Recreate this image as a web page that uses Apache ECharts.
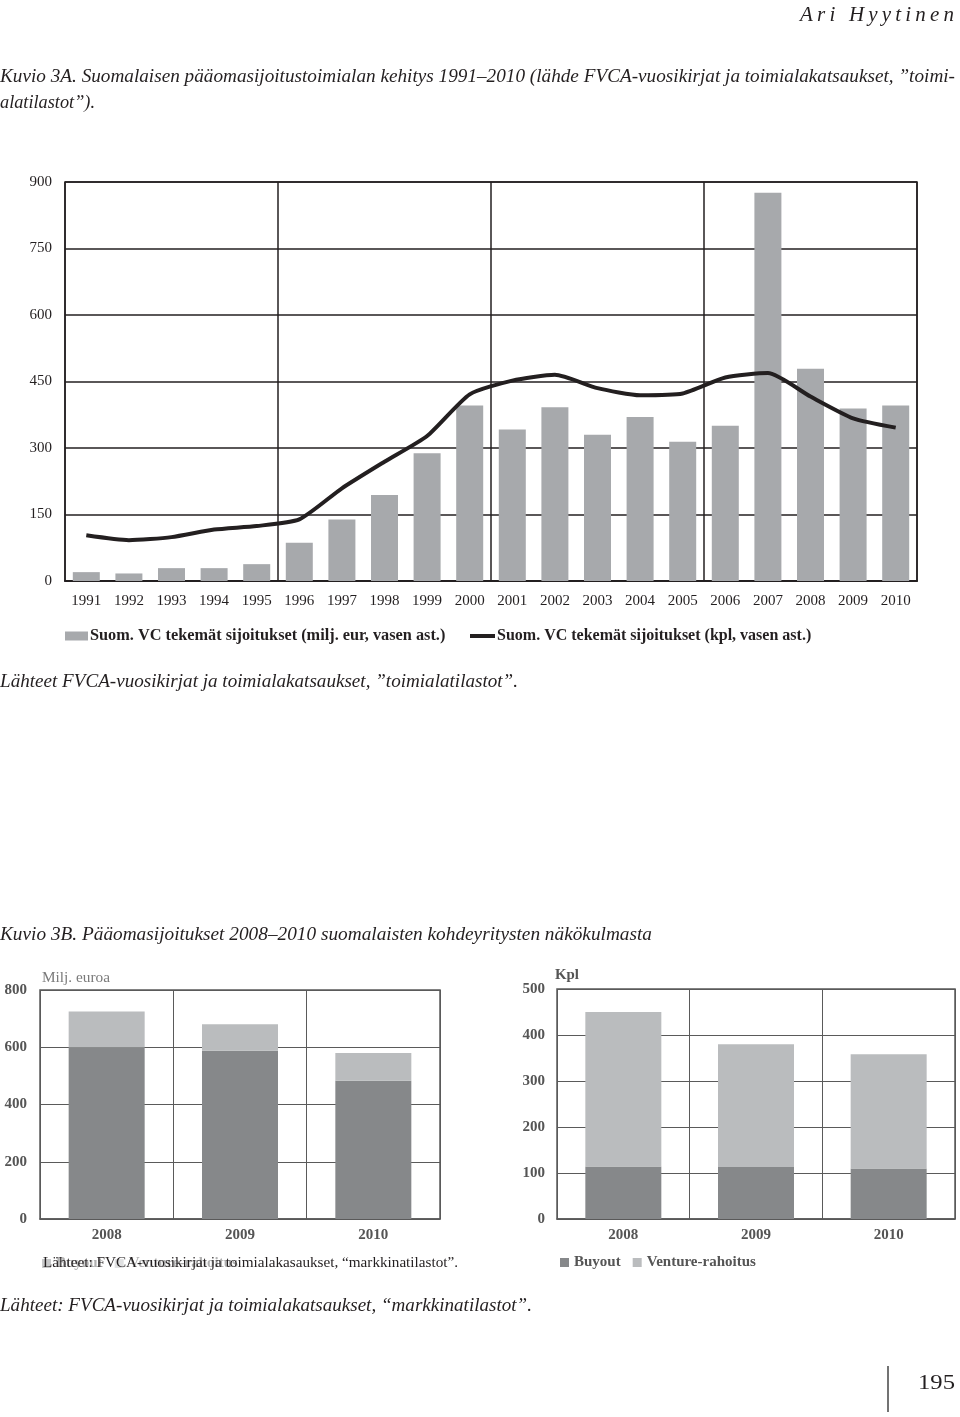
<!DOCTYPE html>
<html><head><meta charset="utf-8">
<script src="https://cdn.jsdelivr.net/npm/echarts@6/dist/echarts.min.js"></script>
<style>
html,body{margin:0;padding:0;background:#fff;}
#wrap{position:relative;width:960px;height:1417px;}
#c{width:960px;height:1417px;}
#hdr{position:absolute;left:800px;top:1px;font:italic 21px 'Liberation Serif',serif;letter-spacing:4.2px;color:#231f20;line-height:26px;white-space:nowrap;}
</style></head><body>
<div id="wrap"><div id="c"></div><div id="hdr">Ari Hyytinen</div></div>
<script>
// ---- Data: Kuvio 3A ----
const years = ['1991','1992','1993','1994','1995','1996','1997','1998','1999','2000','2001','2002','2003','2004','2005','2006','2007','2008','2009','2010'];
const vcAmount = [20,17,29,29,38,86,139,194,288,396,342,392,330,370,314,350,876,479,389,396];
const vcCount = [103,92,99,116,124,139,209,269,327,421,452,465,435,419,423,459,469,416,367,346];
const nameAmount = 'Suom. VC tekemät sijoitukset (milj. eur, vasen ast.)';
const nameCount = 'Suom. VC tekemät sijoitukset (kpl, vasen ast.)';
// ---- Data: Kuvio 3B ----
const years3B = ['2008','2009','2010'];
const buyoutEur = [600,588,483];
const ventureEur = [125,92,97];
const buyoutKpl = [114,113,110];
const ventureKpl = [336,267,248];

const SERIF = '"Liberation Serif","Times New Roman",serif';
const INK = '#231f20';
const mctx = document.createElement('canvas').getContext('2d');
function fit(text, font, w){ mctx.font = font; return w / mctx.measureText(text).width; }

function txt(text, x, y, size, opts){
  opts = opts || {};
  const style = opts.italic ? 'italic ' : '';
  const weight = opts.bold ? 'bold ' : '';
  const font = style + weight + size + 'px ' + SERIF;
  const el = {type:'text', x:x, y:y, z:100,
    style:{text:text, font:font, fill:opts.color||INK, align:opts.align||'left', verticalAlign:'middle',
           textAlign:opts.align||'left', textVerticalAlign:'middle'}};
  if (opts.width) el.scaleX = fit(text, font, opts.width);
  return el;
}

const cap1 = 'Kuvio 3A. Suomalaisen pääomasijoitustoimialan kehitys 1991–2010 (lähde FVCA-vuosikirjat ja toimialakatsaukset, ”toimi-';
const cap2 = 'alatilastot”).';
const src1 = 'Lähteet FVCA-vuosikirjat ja toimialakatsaukset, ”toimialatilastot”.';
const cap3 = 'Kuvio 3B. Pääomasijoitukset 2008–2010 suomalaisten kohdeyritysten näkökulmasta';
const src2 = 'Lähteet: FVCA-vuosikirjat ja toimialakasaukset, “markkinatilastot”.';
const src3 = 'Lähteet: FVCA-vuosikirjat ja toimialakatsaukset, “markkinatilastot”.';

const chart = echarts.init(document.getElementById('c'), null, {renderer:'canvas'});

const gridLine = {show:true, lineStyle:{color:INK, width:1.5}};
const gridLine2 = {show:true, lineStyle:{color:'#5a5a5a', width:1}};
const lblTop = {color:INK, fontSize:15, fontFamily:SERIF};
const lblBot = {color:'#555', fontSize:15, fontFamily:SERIF, fontWeight:'bold'};

const option = {
  animation:false,
  grid:[
    {left:65, top:182, width:852, height:399, show:true, borderColor:INK, borderWidth:1.5, backgroundColor:'transparent'},
    {left:40, top:990, width:400, height:229, show:true, borderColor:'#5a5a5a', borderWidth:1.5},
    {left:557, top:989, width:398, height:230, show:true, borderColor:'#5a5a5a', borderWidth:1.5}
  ],
  xAxis:[
    {type:'category', gridIndex:0, data:years, boundaryGap:true,
     axisTick:{show:false}, axisLine:{show:true, lineStyle:{color:INK, width:2}},
     axisLabel:Object.assign({interval:0, margin:13}, lblTop),
     splitLine:{show:true, interval:function(i){ return i % 5 === 0; }, lineStyle:{color:INK, width:1.5}}},
    {type:'category', gridIndex:1, data:years3B,
     axisTick:{show:false}, axisLine:{show:true, lineStyle:{color:'#5a5a5a', width:1.5}},
     axisLabel:Object.assign({interval:0, margin:9}, lblBot),
     splitLine:{show:true, interval:0, lineStyle:{color:'#5a5a5a', width:1}}},
    {type:'category', gridIndex:2, data:years3B,
     axisTick:{show:false}, axisLine:{show:true, lineStyle:{color:'#5a5a5a', width:1.5}},
     axisLabel:Object.assign({interval:0, margin:9}, lblBot),
     splitLine:{show:true, interval:0, lineStyle:{color:'#5a5a5a', width:1}}}
  ],
  yAxis:[
    {type:'value', gridIndex:0, min:0, max:900, interval:150, axisLine:{show:false}, axisTick:{show:false},
     axisLabel:Object.assign({margin:13}, lblTop), splitLine:gridLine},
    {type:'value', gridIndex:1, min:0, max:800, interval:200, axisLine:{show:false}, axisTick:{show:false},
     axisLabel:Object.assign({margin:13}, lblBot), splitLine:gridLine2},
    {type:'value', gridIndex:2, min:0, max:500, interval:100, axisLine:{show:false}, axisTick:{show:false},
     axisLabel:Object.assign({margin:12}, lblBot), splitLine:gridLine2}
  ],
  legend:[
    {left:65, top:628, padding:0, itemWidth:23, itemHeight:9, itemGap:10, selectedMode:false,
     data:[{name:nameAmount, icon:'rect'}],
     textStyle:{fontFamily:SERIF, fontWeight:'bold', fontSize:16.3, color:INK, padding:[0,0,0,-3]}},
    {left:470, top:628, padding:0, itemWidth:25, itemHeight:4, itemGap:10, selectedMode:false,
     data:[{name:nameCount, icon:'rect', itemStyle:{color:INK}}],
     textStyle:{fontFamily:SERIF, fontWeight:'bold', fontSize:16, color:INK, padding:[0,0,0,-3]}},
    {left:42, top:1256, padding:0, itemWidth:9, itemHeight:9, itemGap:12, selectedMode:false,
     data:[{name:'Buyout', icon:'rect'},{name:'Venture-rahoitus', icon:'rect'}],
     itemStyle:{opacity:0.45},
     textStyle:{fontFamily:SERIF, fontWeight:'bold', fontSize:15, color:'#b0b0b0'}},
    {left:560, top:1255, padding:0, itemWidth:9, itemHeight:9, itemGap:12, selectedMode:false,
     data:[{name:'Buyout', icon:'rect'},{name:'Venture-rahoitus', icon:'rect'}],
     textStyle:{fontFamily:SERIF, fontWeight:'bold', fontSize:15, color:'#555'}}
  ],
  series:[
    {name:nameAmount, type:'bar', xAxisIndex:0, yAxisIndex:0, data:vcAmount, barWidth:27,
     itemStyle:{color:'#a7a9ac'}},
    {name:nameCount, type:'line', xAxisIndex:0, yAxisIndex:0, data:vcCount, symbol:'none', smooth:0.2,
     lineStyle:{color:INK, width:4}, itemStyle:{color:INK}, z:5},
    {name:'Buyout', type:'bar', xAxisIndex:1, yAxisIndex:1, stack:'eur', data:buyoutEur, barWidth:76,
     itemStyle:{color:'#86888a'}},
    {name:'Venture-rahoitus', type:'bar', xAxisIndex:1, yAxisIndex:1, stack:'eur', data:ventureEur, barWidth:76,
     itemStyle:{color:'#babcbe'}},
    {name:'Buyout', type:'bar', xAxisIndex:2, yAxisIndex:2, stack:'kpl', data:buyoutKpl, barWidth:76,
     itemStyle:{color:'#86888a'}},
    {name:'Venture-rahoitus', type:'bar', xAxisIndex:2, yAxisIndex:2, stack:'kpl', data:ventureKpl, barWidth:76,
     itemStyle:{color:'#babcbe'}}
  ],
  graphic:[
    txt(cap1, 0, 77, 18, {italic:true, width:955}),
    txt(cap2, 0, 103, 18, {italic:true, width:95}),
    txt(src1, 0, 682, 18, {italic:true, width:518}),
    txt(cap3, 0, 935, 18, {italic:true, width:652}),
    txt('Milj. euroa', 42, 978, 14, {color:'#7a7a7a', width:68}),
    txt('Kpl', 555, 975, 14, {color:'#555', bold:true, width:24}),
    txt(src2, 43, 1263, 14.5, {width:415}),
    txt(src3, 0, 1306, 18, {italic:true, width:532}),
    txt('195', 918, 1383, 22, {width:37}),
    {type:'line', z:100, shape:{x1:888, y1:1366, x2:888, y2:1412}, style:{stroke:'#444', lineWidth:1.5}}
  ]
};
chart.setOption(option);
</script>
</body></html>
